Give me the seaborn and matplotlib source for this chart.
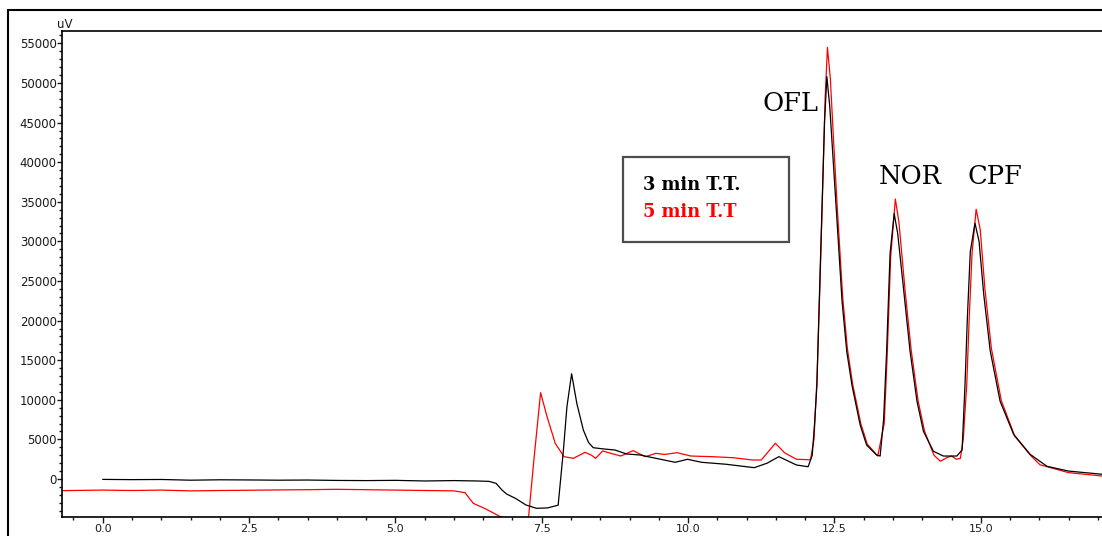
import matplotlib
matplotlib.use('Agg')
import matplotlib.pyplot as plt
import matplotlib.ticker as mticker
from matplotlib.patches import Rectangle
from matplotlib.lines import Line2D
import numpy as np
import pandas as pd
import seaborn as sns

sns.set_theme(style="ticks")
plt.rcParams['font.family'] = ['DejaVu Sans']

# 3 min T.T. (black trace): retention time (min) / signal (uV)
t_3min = [0.0, 0.5, 1.0, 1.5, 2.0, 2.5, 3.0, 3.5, 4.0, 4.5, 5.0, 5.5, 6.0, 6.4, 6.6,
          6.72, 6.82, 6.9, 7.05, 7.23, 7.41, 7.6, 7.78, 7.87, 7.93, 8.01, 8.1, 8.21,
          8.3, 8.38, 8.55, 8.75, 8.95, 9.18, 9.45, 9.78, 9.99, 10.23, 10.65, 11.13,
          11.35, 11.55, 11.7, 11.85, 12.05, 12.12, 12.16, 12.2, 12.24, 12.29, 12.33,
          12.37, 12.42, 12.48, 12.54, 12.63, 12.71, 12.8, 12.94, 13.05, 13.22, 13.28,
          13.34, 13.39, 13.45, 13.52, 13.58, 13.69, 13.79, 13.91, 14.02, 14.19, 14.36,
          14.59, 14.68, 14.73, 14.77, 14.82, 14.9, 14.97, 15.05, 15.16, 15.33, 15.56,
          15.84, 16.13, 16.5, 17.07]
v_3min = [-50, -80, -60, -150, -100, -120, -150, -130, -180, -200, -170, -250, -200, -250, -300,
          -550, -1390, -1900, -2440, -3280, -3700, -3650, -3300, 3660, 9130, 13290, 9500, 6190,
          4600, 3950, 3800, 3660, 3160, 3030, 2610, 2110, 2490, 2110, 1860, 1430,
          2000, 2820, 2300, 1770, 1550, 3000, 7000, 11800, 22400, 35000, 45000,
          50800, 47000, 40000, 33000, 22400, 16100, 11800, 6790, 4270, 3030, 2900,
          7600, 16000, 28500, 33500, 31000, 23300, 16200, 9800, 6020, 3500, 2900,
          2900, 3660, 11900, 20300, 28700, 32300, 30000, 23300, 16200, 9800, 5650,
          3130, 1600, 1000, 600]

# 5 min T.T (red trace)
t_5min = [-0.69, 0.0, 0.5, 1.0, 1.5, 2.0, 2.5, 3.0, 3.5, 4.0, 4.5, 5.0, 5.5, 6.0, 6.19,
          6.33, 6.55, 6.79, 7.0, 7.27, 7.36, 7.48, 7.59, 7.73, 7.88, 8.04, 8.24, 8.35,
          8.42, 8.54, 8.7, 8.85, 9.06, 9.27, 9.45, 9.6, 9.81, 10.05, 10.41, 10.77,
          11.1, 11.25, 11.49, 11.65, 11.85, 12.09, 12.15, 12.2, 12.25, 12.3, 12.34,
          12.38, 12.43, 12.49, 12.55, 12.64, 12.72, 12.81, 12.95, 13.06, 13.24, 13.35,
          13.4, 13.46, 13.54, 13.6, 13.71, 13.81, 13.93, 14.04, 14.2, 14.31, 14.42,
          14.5, 14.58, 14.65, 14.7, 14.76, 14.8, 14.85, 14.92, 14.99, 15.07, 15.18,
          15.35, 15.58, 15.86, 16.01, 16.5, 17.07]
v_5min = [-1470, -1400, -1450, -1400, -1500, -1450, -1420, -1380, -1350, -1300, -1350, -1400, -1450, -1500, -1730,
          -3070, -3800, -4750, -5200, -5200, 2000, 10900, 7880, 4510, 2820, 2610, 3370, 3000,
          2610, 3540, 3200, 2900, 3580, 2820, 3240, 3100, 3320, 2900, 2820, 2690,
          2400, 2400, 4510, 3300, 2500, 2420, 5000, 12500, 24000, 37000, 48000,
          54500, 50500, 42000, 34000, 23000, 16500, 12000, 7000, 4400, 2900, 7000,
          15500, 28000, 35350, 32500, 23500, 16300, 9800, 6000, 3000, 2240, 2700,
          2900, 2500, 2600, 5000, 12000, 20000, 28500, 34050, 31500, 24000, 16500,
          9900, 5400, 2900, 1800, 800, 380]

peak_names = ['OFL', 'NOR', 'CPF']
legend_labels = ['3 min T.T.', '5 min T.T']

df = pd.concat([
    pd.DataFrame({'time': t_3min, 'uV': v_3min, 'run': legend_labels[0]}),
    pd.DataFrame({'time': t_5min, 'uV': v_5min, 'run': legend_labels[1]}),
])

fig = plt.figure(figsize=(11.02, 5.36), dpi=100)
ax = fig.add_axes([0.0567, 0.036, 1 - 0.0567, 0.9427 - 0.036])

sns.lineplot(data=df, x='time', y='uV', hue='run', hue_order=legend_labels[::-1],
             palette={legend_labels[0]: 'black', legend_labels[1]: '#ff0000'},
             estimator=None, sort=False, linewidth=0.9, legend=False, ax=ax)

ax.set_xlim(-0.687, 17.07)
ax.set_ylim(-4760, 56600)
ax.set_xlabel('')
ax.set_ylabel('')

ax.xaxis.set_major_locator(mticker.MultipleLocator(2.5))
ax.xaxis.set_minor_locator(mticker.MultipleLocator(0.5))
ax.xaxis.set_major_formatter(mticker.FormatStrFormatter('%.1f'))
ax.yaxis.set_major_locator(mticker.MultipleLocator(5000))
ax.yaxis.set_minor_locator(mticker.MultipleLocator(1000))
ax.yaxis.set_major_formatter(mticker.FormatStrFormatter('%d'))

tick_col = '#1a1a1a'
ax.tick_params(axis='x', which='major', length=4.0, width=1, pad=1.0, labelsize=8, colors=tick_col)
ax.tick_params(axis='x', which='minor', length=2.5, width=1, colors=tick_col)
ax.tick_params(axis='y', which='major', length=3.6, width=1, pad=0.6, labelsize=8.5, colors=tick_col)
ax.tick_params(axis='y', which='minor', length=2.4, width=1, colors=tick_col)

for side in ['left', 'bottom', 'top']:
    ax.spines[side].set_visible(True)
    ax.spines[side].set_linewidth(1.2)
    ax.spines[side].set_color('black')
ax.spines['right'].set_visible(False)

fig.text(0.059, 0.948, 'uV', ha='center', va='baseline', fontsize=8.5, color=tick_col)

# legend box
fig.patches.append(Rectangle((0.5656, 0.5491), 0.1506, 0.1575, transform=fig.transFigure,
                             fill=False, edgecolor='#4d4d4d', linewidth=1.6))
fig.text(0.5838, 0.6455, legend_labels[0], color='black', family='DejaVu Serif',
         fontweight='bold', fontsize=12.8, va='baseline')
fig.text(0.5838, 0.5957, legend_labels[1], color='#ff0000', family='DejaVu Serif',
         fontweight='bold', fontsize=12.8, va='baseline')

# peak labels
for name, x, y in zip(peak_names, [0.6917, 0.797, 0.8781], [0.7929, 0.6562, 0.6562]):
    fig.text(x, y, name, family='DejaVu Serif', fontsize=18.5, va='baseline', color='black')

# outer frame
fig.lines.append(Line2D([7.5 / 1102, 7.5 / 1102], [0, 1 - 10 / 536], transform=fig.transFigure,
                        color='black', linewidth=1.5))
fig.lines.append(Line2D([7.5 / 1102, 1], [1 - 10 / 536, 1 - 10 / 536], transform=fig.transFigure,
                        color='black', linewidth=1.5))

fig.savefig('out.png', dpi=100)
